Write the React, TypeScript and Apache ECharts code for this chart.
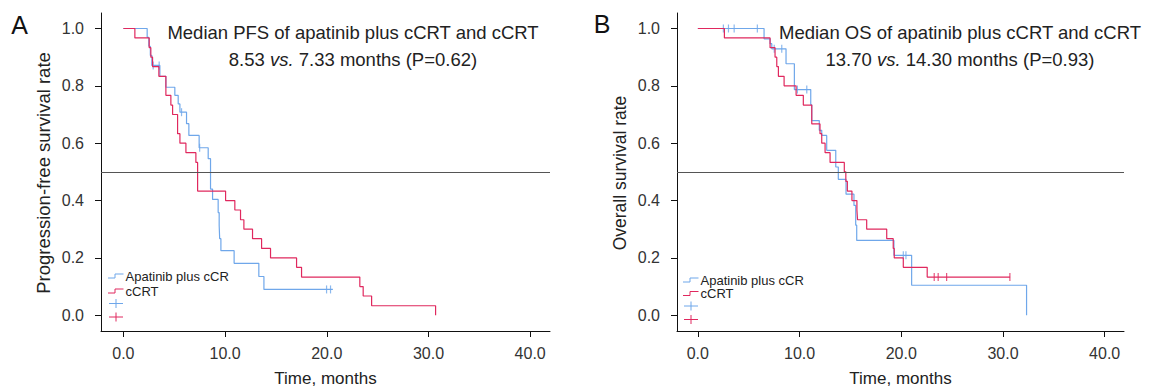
import React, { useEffect, useRef } from 'react';
import * as echarts from 'echarts';

// ---------- Data ----------
const xTickValues = [0, 10, 20, 30, 40];
const yTickValues = [0, 0.2, 0.4, 0.6, 0.8, 1.0];

// Panel A: progression-free survival
const pfsApatinibTime = [0, 2.34, 2.5, 2.65, 2.8, 3.59, 4.18, 5.06, 5.39, 5.56, 6.21, 6.44, 7.45, 8.34, 8.57, 8.77, 9.32, 9.42, 9.47, 9.59, 10.89, 13.32, 13.82, 20.6];
const pfsApatinibSurv = [1, 0.969, 0.938, 0.906, 0.871, 0.833, 0.795, 0.767, 0.737, 0.708, 0.668, 0.627, 0.584, 0.546, 0.44, 0.404, 0.358, 0.313, 0.267, 0.225, 0.181, 0.135, 0.09, 0.09];
const pfsApatinibCensor = [2.93, 3.52, 5.72, 7.5, 19.98, 20.37];

const pfsCcrtTime = [0, 1.13, 2.54, 2.7, 2.87, 3.49, 4.18, 4.67, 4.84, 5.33, 5.56, 6.15, 7.13, 7.3, 10.05, 10.96, 11.52, 11.85, 12.7, 13.59, 14.47, 17.03, 17.52, 23.25, 23.58, 24.41, 30.7];
const pfsCcrtSurv = [1, 0.967, 0.933, 0.9, 0.867, 0.833, 0.767, 0.733, 0.7, 0.633, 0.6, 0.567, 0.533, 0.433, 0.4, 0.367, 0.333, 0.3, 0.267, 0.233, 0.2, 0.167, 0.133, 0.1, 0.067, 0.033, 0.0];
const pfsCcrtCensor: number[] = [];

// Panel B: overall survival
const osApatinibTime = [0, 6.51, 7.1, 7.27, 8.67, 9.49, 11.1, 11.2, 11.94, 12.18, 12.67, 13.56, 13.81, 14.57, 15.35, 15.52, 15.62, 19.28, 21.02, 32.32];
const osApatinibSurv = [1, 0.964, 0.947, 0.929, 0.877, 0.787, 0.734, 0.679, 0.645, 0.627, 0.575, 0.517, 0.474, 0.422, 0.383, 0.314, 0.261, 0.209, 0.1045, 0];
const osApatinibCensor = [2.51, 3.01, 3.57, 5.85, 7.51, 8.25, 9.79, 10.71, 20.2, 20.46];

const osCcrtTime = [0, 2.61, 7.1, 7.59, 7.76, 7.92, 8.48, 9.66, 10.37, 11.2, 12.01, 12.18, 12.51, 13.0, 14.4, 14.55, 14.7, 15.15, 15.64, 15.7, 16.6, 18.57, 19.21, 19.31, 20.2, 22.55, 30.7];
const osCcrtSurv = [1, 0.967, 0.933, 0.9, 0.867, 0.833, 0.8, 0.767, 0.733, 0.667, 0.633, 0.6, 0.567, 0.533, 0.5, 0.467, 0.433, 0.4, 0.367, 0.333, 0.3, 0.267, 0.233, 0.2, 0.167, 0.133, 0.133];
const osCcrtCensor = [23.24, 23.63, 24.46, 30.68];

const medianLevel = 0.5;
const groupNames = ['Apatinib plus cCR', 'cCRT'];

// ---------- Styling ----------
const BLUE = '#6fa7ea';
const RED = '#e0285e';
const FONT = '"Liberation Sans", Arial, Helvetica, sans-serif';

function zip(t: number[], s: number[]) {
  return t.map((v, i) => [v, s[i]]);
}
function survAt(t: number[], s: number[], x: number) {
  let v = s[0];
  for (let i = 0; i < t.length; i++) if (t[i] <= x) v = s[i];
  return v;
}

function axisPair(idx: number, xmin: number, xmax: number) {
  const common = {
    axisLine: { show: true, onZero: false, lineStyle: { color: '#111', width: 1 } },
    axisTick: { show: true, length: 6, lineStyle: { color: '#111', width: 1 } },
    splitLine: { show: false },
  };
  const x = {
    type: 'value', gridIndex: idx, min: xmin, max: xmax,
    ...common,
    axisTick: { ...common.axisTick, customValues: xTickValues },
    axisLabel: {
      customValues: xTickValues, margin: 14, fontSize: 16, color: '#333', fontFamily: FONT,
      formatter: (v: number) => v.toFixed(1),
    },
  };
  const y = {
    type: 'value', gridIndex: idx, min: -0.055, max: 1.054,
    ...common,
    axisTick: { ...common.axisTick, customValues: yTickValues },
    axisLabel: {
      customValues: yTickValues, margin: 17, fontSize: 16, color: '#333', fontFamily: FONT,
      formatter: (v: number) => v.toFixed(1),
    },
  };
  return { x, y };
}

function kmSeries(idx: number, t: number[], s: number[], color: string, withMedian: boolean) {
  const ser: any = {
    type: 'line', xAxisIndex: idx, yAxisIndex: idx, step: 'end',
    data: zip(t, s), showSymbol: false, symbol: 'none',
    lineStyle: { color, width: 1.2 }, itemStyle: { color }, silent: true,
  };
  if (withMedian) {
    ser.markLine = {
      silent: true, symbol: 'none', label: { show: false },
      lineStyle: { color: '#555', width: 1, type: 'solid' },
      data: [{ yAxis: medianLevel }],
    };
  }
  return ser;
}
function censorSeries(idx: number, t: number[], s: number[], c: number[], color: string) {
  return {
    type: 'scatter', xAxisIndex: idx, yAxisIndex: idx,
    data: c.map((x) => [x, survAt(t, s, x)]),
    symbol: 'rect', symbolSize: [1.2, 8],
    itemStyle: { color }, silent: true,
  };
}

function legendGraphics(x0: number, yText1: number, yText2: number, yPlus1: number, yPlus2: number, textX: number, plusX: number) {
  const step = (y: number, color: string) => ({
    type: 'polyline',
    shape: { points: [[x0, y + 2], [x0 + 7, y + 2], [x0 + 7, y - 2], [textX - 2, y - 2]] },
    style: { stroke: color, lineWidth: 1, fill: null },
  });
  const plus = (y: number, color: string) => ({
    type: 'group',
    children: [
      { type: 'line', shape: { x1: plusX - 7, y1: y, x2: plusX + 7, y2: y }, style: { stroke: color, lineWidth: 1 } },
      { type: 'line', shape: { x1: plusX, y1: y - 4.5, x2: plusX, y2: y + 4.5 }, style: { stroke: color, lineWidth: 1 } },
    ],
  });
  const txt = (y: number, s: string) => ({
    type: 'text', x: textX, y,
    style: { text: s, fontSize: 13, fontFamily: FONT, fill: '#222', align: 'left', verticalAlign: 'middle' },
  });
  return [
    step(yText1, BLUE), txt(yText1, groupNames[0]),
    step(yText2, RED), txt(yText2, groupNames[1]),
    plus(yPlus1, BLUE), plus(yPlus2, RED),
  ];
}

function titleText(cx: number, y1: number, y2: number, line1: string, a: string, b: string) {
  const fs = 18.5;
  const base = { fontSize: fs, fontFamily: FONT, fill: '#222' };
  return [
    { type: 'text', x: cx, y: y1, style: { ...base, text: line1, align: 'center', verticalAlign: 'middle' } },
    {
      type: 'text', x: cx, y: y2,
      style: {
        ...base, align: 'center', verticalAlign: 'middle',
        text: `{n|${a} }{i|vs.}{n| ${b}}`,
        rich: {
          n: { fontSize: fs, fontFamily: FONT, fill: '#222' },
          i: { fontSize: fs, fontFamily: FONT, fill: '#222', fontStyle: 'italic' },
        },
      },
    },
  ];
}

export default function App() {
  const ref = useRef<HTMLDivElement>(null);
  useEffect(() => {
    if (!ref.current) return;
    const chart = echarts.init(ref.current, null, { renderer: 'svg' });
    const a = axisPair(0, -2.2, 41.95);
    const b = axisPair(1, -2.05, 41.9);
    const option: any = {
      animation: false,
      backgroundColor: '#fff',
      grid: [
        { left: 101, top: 13, width: 449, height: 318, containLabel: false },
        { left: 677, top: 13, width: 447, height: 318, containLabel: false },
      ],
      xAxis: [a.x, b.x],
      yAxis: [a.y, b.y],
      series: [
        kmSeries(0, pfsApatinibTime, pfsApatinibSurv, BLUE, true),
        kmSeries(0, pfsCcrtTime, pfsCcrtSurv, RED, false),
        censorSeries(0, pfsApatinibTime, pfsApatinibSurv, pfsApatinibCensor, BLUE),
        censorSeries(0, pfsCcrtTime, pfsCcrtSurv, pfsCcrtCensor, RED),
        kmSeries(1, osApatinibTime, osApatinibSurv, BLUE, true),
        kmSeries(1, osCcrtTime, osCcrtSurv, RED, false),
        censorSeries(1, osApatinibTime, osApatinibSurv, osApatinibCensor, BLUE),
        censorSeries(1, osCcrtTime, osCcrtSurv, osCcrtCensor, RED),
      ],
      graphic: [
        { type: 'text', x: 19.5, y: 25, style: { text: 'A', fontSize: 25, fontFamily: FONT, fill: '#111', align: 'center', verticalAlign: 'middle' } },
        { type: 'text', x: 602, y: 24, style: { text: 'B', fontSize: 25, fontFamily: FONT, fill: '#111', align: 'center', verticalAlign: 'middle' } },
        { type: 'text', x: 43.5, y: 173, rotation: Math.PI / 2, style: { text: 'Progression-free survival rate', fontSize: 18.5, fontFamily: FONT, fill: '#222', align: 'center', verticalAlign: 'middle' } },
        { type: 'text', x: 619.5, y: 173, rotation: Math.PI / 2, style: { text: 'Overall survival rate', fontSize: 17.5, fontFamily: FONT, fill: '#222', align: 'center', verticalAlign: 'middle' } },
        { type: 'text', x: 325.5, y: 378, style: { text: 'Time, months', fontSize: 17, fontFamily: FONT, fill: '#222', align: 'center', verticalAlign: 'middle' } },
        { type: 'text', x: 900.5, y: 378, style: { text: 'Time, months', fontSize: 17, fontFamily: FONT, fill: '#222', align: 'center', verticalAlign: 'middle' } },
        ...titleText(353, 32, 59, 'Median PFS of apatinib plus cCRT and cCRT', '8.53', '7.33 months (P=0.62)'),
        ...titleText(960, 32, 59, 'Median OS of apatinib plus cCRT and cCRT', '13.70', '14.30 months (P=0.93)'),
        ...legendGraphics(108, 276, 291, 303.5, 317, 125.5, 116),
        ...legendGraphics(683, 280, 293.5, 306, 319.5, 700.5, 691),
      ],
    };
    chart.setOption(option);
    return () => chart.dispose();
  }, []);
  return <div ref={ref} style={{ position: 'fixed', left: 0, top: 0, width: 1149, height: 388 }} />;
}
